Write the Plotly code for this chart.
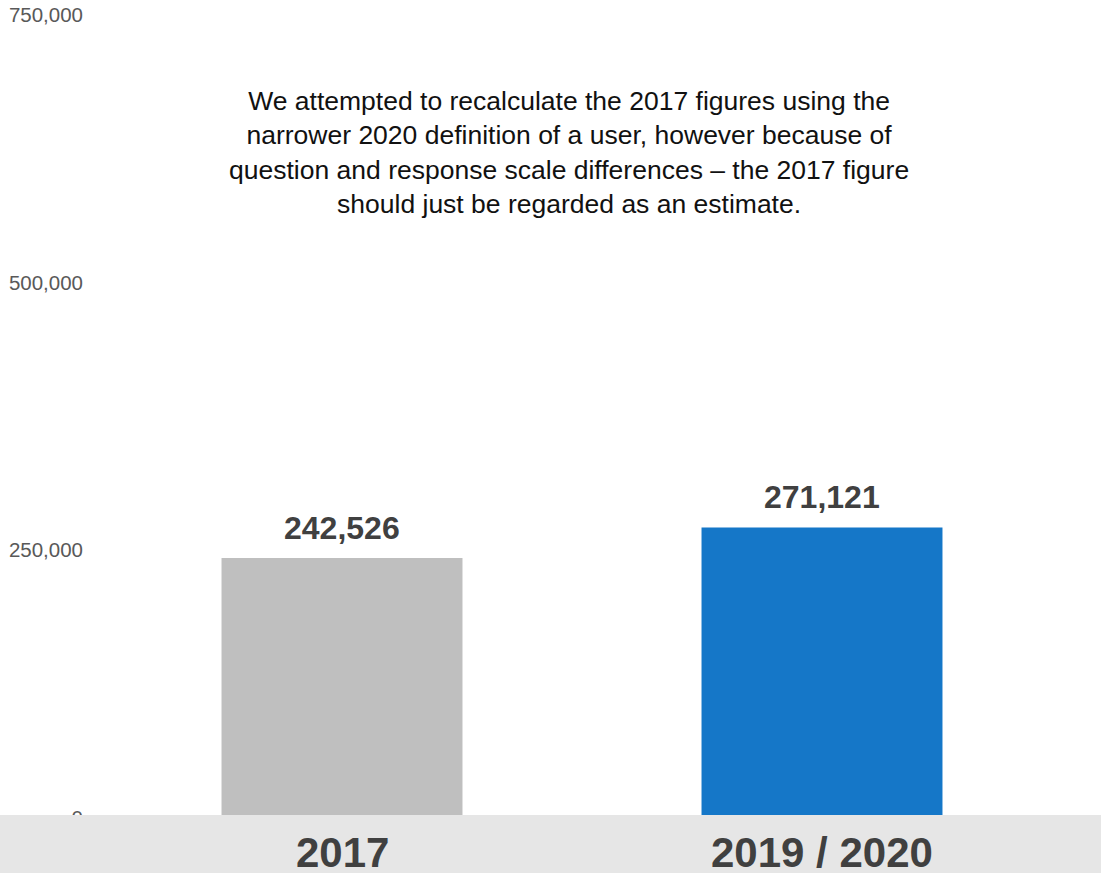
import plotly.graph_objects as go

years = ["2017", "2019 / 2020"]
users = [242526, 271121]
bar_colors = ["#bfbfbf", "#1577c8"]
y_ticks = [0, 250000, 500000, 750000]
note = ("We attempted to recalculate the 2017 figures using the<br>"
        "narrower 2020 definition of a user, however because of<br>"
        "question and response scale differences \u2013 the 2017 figure<br>"
        "should just be regarded as an estimate.")

W, H = 1101, 873
FONT = "Liberation Sans, Arial"

fig = go.Figure(go.Bar(
    x=years, y=users,
    marker=dict(color=bar_colors, line=dict(width=0)),
    hoverinfo="skip",
))

# value labels on top of bars (x given as category index)
for i, v in enumerate(users):
    fig.add_annotation(x=i, y=v, xref="x", yref="y", text=f"<b>{v:,}</b>",
                       showarrow=False, yanchor="bottom", yshift=10,
                       font=dict(family=FONT, size=32, color="#404040"))

# year labels sitting on the grey strip
for i, yr in enumerate(years):
    fig.add_annotation(x=i, y=(H - 852) / H, xref="x", yref="paper", text=f"<b>{yr}</b>",
                       showarrow=False, yanchor="middle",
                       font=dict(family=FONT, size=42, color="#404040"))

fig.add_annotation(x=(568.5 - 102) / 960, y=(H - 152) / H, xref="paper", yref="paper",
                   text=note, showarrow=False, align="center", yanchor="middle",
                   font=dict(family=FONT, size=26.5, color="#111111"))

# grey strip along the bottom
fig.add_shape(type="rect", xref="paper", yref="paper", x0=-0.2, x1=1.2,
              y0=-0.01, y1=(H - 815) / H, fillcolor="#e6e6e6", line=dict(width=0),
              layer="above")

fig.update_layout(
    width=W, height=H,
    margin=dict(l=102, r=39, t=0, b=0),
    plot_bgcolor="white", paper_bgcolor="white",
    bargap=0.498, showlegend=False,
    xaxis=dict(type="category", categoryorder="array", categoryarray=years,
               range=[-0.5, 1.5], showticklabels=False, showgrid=False,
               zeroline=False, showline=False),
    yaxis=dict(range=[-51869, 764019], tickvals=y_ticks, tickformat=",",
               showgrid=False, zeroline=False, showline=False,
               ticklabelstandoff=18,
               tickfont=dict(family=FONT, size=20.5, color="#595959")),
)

fig.write_html("out.html", config={"displayModeBar": False},
               post_script="document.body.style.margin='0';")
